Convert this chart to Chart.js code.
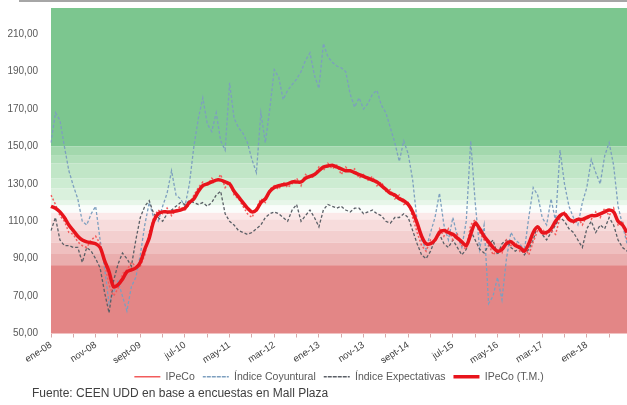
<!DOCTYPE html>
<html><head><meta charset="utf-8">
<script src="https://cdn.jsdelivr.net/npm/chart.js@4/dist/chart.umd.min.js"></script>
<style>
html,body{margin:0;padding:0;background:#fff;}
#wrap{position:relative;width:627px;height:405px;overflow:hidden;}
#frame{position:absolute;left:19px;top:0;width:608px;height:0;border-top:2px solid #a6a6a6;}
#src{position:absolute;left:32px;top:386px;font:12px "Liberation Sans",Arial,sans-serif;color:#404040;white-space:nowrap;}
</style></head><body>
<div id="wrap"><canvas id="c" width="627" height="405"></canvas><div id="frame"></div><div id="src">Fuente: CEEN UDD en base a encuestas en Mall Plaza</div></div>
<script>
// Categories: monthly, ene-08 .. oct-18
const monthNames = ['ene','feb','mar','abr','may','jun','jul','ago','sept','oct','nov','dic'];
const startYear = 2008, nMonths = 130;
const categories = [];
for (let i = 0; i < nMonths; i++) {
  const y = startYear + Math.floor(i / 12);
  categories.push(monthNames[i % 12] + '-' + String(y).slice(2));
}

const ipeco = [
124,119,113,110,104,103,99,97,96,100,
102,98,88,76,70,74,82,84,88,86,
86,92,104,112,116,114,117,113,116,118,
116,119,124,128,131,129,133,131,135,128,
131,124,122,118,114,112,117,122,120,127,
129,127,131,128,130,133,129,135,133,134,
139,137,141,138,140,135,139,136,138,133,
135,132,134,129,131,126,127,122,124,119,
120,112,104,97,94,100,99,106,102,106,
100,103,97,95,108,111,104,100,98,92,
95,93,100,97,99,94,96,92,99,105,
106,103,105,103,112,115,112,109,112,108,
113,111,115,112,117,113,117,108,110,100];

const coyuntural = [
152,168,164,150,137,129,122,110,108,114,
118,100,85,66,72,78,70,62,75,80,
92,108,120,112,110,118,125,137,124,122,
118,130,150,165,176,162,158,168,153,148,
184,165,160,157,152,143,136,168,152,170,
191,187,175,180,183,186,190,196,200,188,
181,205,198,195,193,192,190,178,171,176,
170,173,178,180,172,168,160,152,142,153,
146,132,110,100,95,104,112,125,108,100,
112,102,96,110,153,120,95,108,66,70,
80,68,90,104,100,98,94,112,128,124,
112,108,122,110,148,130,118,112,108,120,
128,143,136,130,145,152,140,118,108,98];

const expectativas = [
105,112,100,97,97,96,96,88,96,94,
90,85,72,61,78,87,93,90,86,100,
112,118,121,114,112,110,114,116,118,120,
119,121,120,119,120,118,120,124,126,114,
110,108,105,104,103,104,106,108,112,114,
115,114,112,110,116,119,110,113,116,112,
107,116,119,118,117,118,116,115,117,117,
114,115,116,114,113,110,109,112,112,114,
112,105,98,92,90,94,100,103,98,96,
100,96,92,95,105,100,95,93,97,100,
92,98,100,96,94,96,92,95,100,108,
103,100,104,108,112,110,106,104,100,96,
106,110,104,108,106,112,108,100,96,94];

const ipecoTM = [
118,117,115,112,108,105,102,100,99,98.5,
98,96,89,83,75,76,79,83,84,85,
88,95,101,110,114,115,115,115,115.5,116,
117,120,122,126,129,130,131,132,132,131,
130,126,123,120,117,115,116,120,122,126,
128,129,129.5,130,131,131,131,133,134,135,
137,139,139.5,140,139,138,137,137,136,135,
134,133,132,131,129,127,125,124,122,121,
119,115,109,102,98,98,100,104,105,104,
103,101,99,97,103,109,106,102,99,96,
94,95,98,99,97,96,94,98,104,107,
104,104,106,110,113,114,111,110,111,111,
112,113,113,114,115,116,115,110,108,104];

const yTickValues = [50,70,90,110,130,150,170,190,210];
const yMin = 50, yMax = 224;

// Background bands: [top value, bottom value]
const bandTops    = [224,150,145,141,133,127.5,121,118.5,114.5,111,105,98.5,92.5,86.5];
const bandBottoms = [150,145,141,133,127.5,121,118.5,114.5,111,105,98.5,92.5,86.5,50];
const bandColors  = ['#7cc68f','#a3d8ad','#b2dfba','#c1e6c7','#cdecd2','#daf1dd','#e7f6e9','#fafdfb',
                     '#fbe9e9','#f7dcdc','#f3cfcf','#efbfbf','#eaaeae','#e38686'];

const bandsPlugin = {
  id: 'bands',
  beforeDatasetsDraw(chart) {
    const {ctx, chartArea: a, scales: {y}} = chart;
    ctx.save();
    for (let i = 0; i < bandTops.length; i++) {
      const t = y.getPixelForValue(bandTops[i]);
      const b = y.getPixelForValue(bandBottoms[i]);
      ctx.fillStyle = bandColors[i];
      ctx.fillRect(a.left, Math.min(t, b), a.right - a.left, Math.abs(b - t));
    }
    ctx.restore();
  }
};

const FONT = '"Liberation Sans", Arial, sans-serif';

new Chart(document.getElementById('c'), {
  type: 'line',
  data: {
    labels: categories,
    datasets: [
      {label: 'IPeCo', data: ipeco, borderColor: '#f25c5c', backgroundColor: '#f25c5c',
       borderWidth: 1.5, borderDash: [2, 2], pointRadius: 0, tension: 0, order: 1},
      {label: 'Índice Coyuntural', data: coyuntural, borderColor: '#7d9fbf', backgroundColor: '#7d9fbf',
       borderWidth: 1.3, borderDash: [3, 2], pointRadius: 0, tension: 0, order: 3},
      {label: 'Índice Expectativas', data: expectativas, borderColor: '#5a5f66', backgroundColor: '#5a5f66',
       borderWidth: 1.3, borderDash: [3, 2], pointRadius: 0, tension: 0, order: 2},
      {label: 'IPeCo (T.M.)', data: ipecoTM, borderColor: '#e8141c', backgroundColor: '#e8141c',
       borderWidth: 3.5, pointRadius: 0, tension: 0.3, order: 0}
    ]
  },
  options: {
    responsive: false,
    animation: false,
    layout: {padding: {top: 8, right: 0, bottom: 13, left: 0}},
    plugins: {
      tooltip: {enabled: false},
      legend: {
        position: 'bottom',
        fullSize: false,
        labels: {
          boxWidth: 26, boxHeight: 0, padding: 8,
          color: '#595959', font: {family: FONT, size: 10.5},
          sort: (a, b) => a.datasetIndex - b.datasetIndex
        }
      }
    },
    scales: {
      x: {
        offset: false,
        grid: {display: true, drawOnChartArea: false, drawTicks: true, tickLength: 4,
               color: (c) => (c.index % 5 === 0 ? '#d6a8a8' : 'rgba(0,0,0,0)')},
        border: {display: false},
        ticks: {
          autoSkip: false, minRotation: 33, maxRotation: 33, padding: 2,
          color: '#404040', font: {family: FONT, size: 9.5},
          callback: (v, i) => (i % 10 === 0 ? categories[i] : '')
        },
        afterFit: (axis) => { axis.height = 30; axis.paddingLeft = 0; axis.paddingRight = 0; }
      },
      y: {
        min: yMin, max: yMax,
        grid: {display: false, drawTicks: false},
        border: {display: false},
        ticks: {
          padding: 13, color: '#595959', font: {family: FONT, size: 10},
          callback: (v) => Number(v).toFixed(2).replace('.', ',')
        },
        afterBuildTicks: (axis) => { axis.ticks = yTickValues.map(v => ({value: v})); },
        afterFit: (axis) => { axis.width = 51; axis.paddingTop = 0; axis.paddingBottom = 0; }
      }
    }
  },
  plugins: [bandsPlugin]
});
</script>
</body></html>
